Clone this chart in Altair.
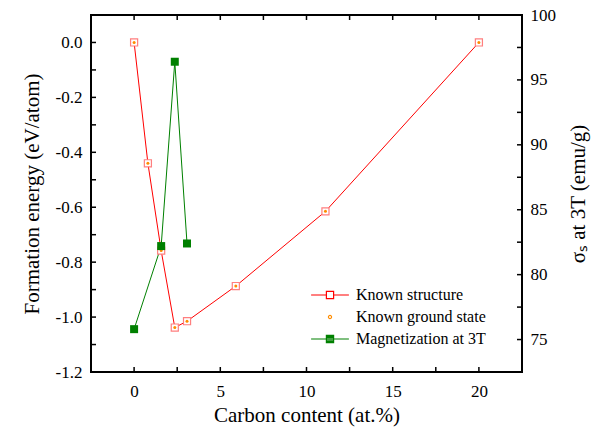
import altair as alt
import pandas as pd

# ---- data ----
x_struct = [0, 0.8, 1.57, 2.36, 3.07, 5.9, 11.1, 20]
e_struct = [0.0, -0.44, -0.758, -1.038, -1.015, -0.887, -0.615, 0.0]
x_ground = [0, 0.8, 1.57, 2.36, 3.07, 5.9, 11.1, 20]
e_ground = [0.0, -0.44, -0.758, -1.038, -1.015, -0.887, -0.615, 0.0]
x_mag = [0, 1.57, 2.36, 3.07]
m_mag = [75.8, 82.2, 96.4, 82.4]

series_names = ["Known structure", "Known ground state", "Magnetization at 3T"]
x_major = [0, 5, 10, 15, 20]
x_minor = [0, 2.5, 5, 7.5, 10, 12.5, 15, 17.5, 20]
e_major = [-1.2, -1.0, -0.8, -0.6, -0.4, -0.2, 0.0]
e_minor = [-1.1, -1.0, -0.9, -0.8, -0.7, -0.6, -0.5, -0.4, -0.3, -0.2, -0.1, 0.0]
m_major = [75, 80, 85, 90, 95, 100]
m_minor = [75, 77.5, 80, 82.5, 85, 87.5, 90, 92.5, 95, 97.5]

W, H = 431, 357
TICK = 5
FONT = "Liberation Serif"

struct_df = pd.DataFrame({"x": x_struct, "y": e_struct})
ground_df = pd.DataFrame({"x": x_ground, "y": e_ground})
mag_df = pd.DataFrame({"x": x_mag, "y": m_mag})
legend_df = pd.DataFrame({"series": series_names, "x": [0, 0, 0], "y": [0, 0, 0]})
xt_df = pd.DataFrame({"v": x_minor})
et_df = pd.DataFrame({"v": e_minor})
mt_df = pd.DataFrame({"v": m_minor})

xs = alt.Scale(domain=[-2.5, 22.5], nice=False, zero=False)
es = alt.Scale(domain=[-1.2, 0.1], nice=False, zero=False)
ms = alt.Scale(domain=[72.5, 100], nice=False, zero=False)

red_line = alt.Chart(struct_df).mark_line(color="#ff0000", strokeWidth=1).encode(
    x=alt.X("x:Q", scale=xs, axis=alt.Axis(
        values=x_major, ticks=False, domain=False, grid=False, labelPadding=11,
        labelFont=FONT, labelFontSize=17, labelColor="black",
        title="Carbon content (at.%)", titlePadding=5,
        titleFont=FONT, titleFontSize=21, titleFontWeight="normal", titleColor="black")),
    y=alt.Y("y:Q", scale=es, axis=alt.Axis(
        orient="left", values=e_major, format=".1f",
        labelExpr="replace(datum.label, '\u2212', '-')",
        ticks=False, domain=False, grid=False, labelPadding=9,
        labelFont=FONT, labelFontSize=17, labelColor="black",
        title="Formation energy (eV/atom)", titlePadding=13,
        titleFont=FONT, titleFontSize=21, titleFontWeight="normal", titleColor="black")),
)

green_line = alt.Chart(mag_df).mark_line(color="#008000", strokeWidth=1).encode(
    x=alt.X("x:Q", scale=xs),
    y=alt.Y("y:Q", scale=ms, axis=alt.Axis(
        orient="right", values=m_major, ticks=False, domain=False, grid=False,
        labelPadding=8, labelFont=FONT, labelFontSize=17, labelColor="black",
        title="σₛ at 3T (emu/g)", titleAngle=270, titlePadding=33,
        titleFont=FONT, titleFontSize=21, titleFontWeight="normal", titleColor="black")),
)

# inward ticks, placed through the scales
xt_bottom = alt.Chart(xt_df).mark_rule(color="black", strokeWidth=1.5).encode(
    x=alt.X("v:Q", scale=xs), y=alt.value(H), y2=alt.value(H - TICK))
xt_top = alt.Chart(xt_df).mark_rule(color="black", strokeWidth=1.5).encode(
    x=alt.X("v:Q", scale=xs), y=alt.value(0), y2=alt.value(TICK))
et_left = alt.Chart(et_df).mark_rule(color="black", strokeWidth=1.5).encode(
    y=alt.Y("v:Q", scale=es, axis=None), x=alt.value(0), x2=alt.value(TICK))
mt_right = alt.Chart(mt_df).mark_rule(color="black", strokeWidth=1.5).encode(
    y=alt.Y("v:Q", scale=ms, axis=None), x=alt.value(W - TICK), x2=alt.value(W))

red_pts = alt.Chart(struct_df).mark_point(
    shape="square", size=50, filled=False, stroke="#ff7f7f", fill="white",
    strokeWidth=1.2, opacity=1).encode(
    x=alt.X("x:Q", scale=xs), y=alt.Y("y:Q", scale=es, axis=None))

orange_pts = alt.Chart(ground_df).mark_point(
    shape="circle", size=9, filled=True, color="#ff8c00", opacity=1).encode(
    x=alt.X("x:Q", scale=xs), y=alt.Y("y:Q", scale=es, axis=None))

green_pts = alt.Chart(mag_df).mark_point(
    shape="square", size=64, filled=True, color="#008000", opacity=1).encode(
    x=alt.X("x:Q", scale=xs), y=alt.Y("y:Q", scale=ms, axis=None))

# legend-only layer (no marks drawn; entries come from the explicit scale domains)
paths = [
    "M-4.2,0H-0.8M0.8,0H4.2M-0.8,-0.8H0.8V0.8H-0.8Z",
    "M-0.35,0A0.35,0.35,0,1,1,0.35,0A0.35,0.35,0,1,1,-0.35,0Z",
    "M-4.2,0H-0.8M0.8,0H4.2M-0.8,-0.8H0.8V0.8H-0.8Z"
    "M-0.8,-0.55H0.8M-0.8,-0.28H0.8M-0.8,0H0.8M-0.8,0.28H0.8M-0.8,0.55H0.8",
]
leg = alt.Legend(title=None, orient="none", legendX=231, legendY=272, padding=0,
                 labelFont=FONT, labelFontSize=16, labelColor="black",
                 symbolSize=81, symbolStrokeWidth=1.2, labelOffset=18, rowPadding=6)
legend_layer = alt.Chart(legend_df).transform_filter("false").mark_point(opacity=1).encode(
    x=alt.X("x:Q", scale=xs),
    y=alt.Y("y:Q", scale=es, axis=None),
    stroke=alt.Stroke("series:N", scale=alt.Scale(domain=series_names,
                      range=["#ff0000", "#ff8c00", "#008000"]), legend=leg),
    shape=alt.Shape("series:N", scale=alt.Scale(domain=series_names, range=paths),
                    legend=leg),
)

chart = alt.layer(
    red_line, green_line, xt_bottom, xt_top, et_left, mt_right,
    red_pts, orange_pts, green_pts, legend_layer
).resolve_scale(y="independent").resolve_axis(y="independent").properties(
    width=W, height=H,
    autosize=alt.AutoSizeParams(type="none"),
    padding={"left": 91, "top": 15, "right": 80, "bottom": 71},
).configure_view(stroke="black", strokeWidth=2)

chart.save("out.html", embed_options={"renderer": "svg", "actions": False})
